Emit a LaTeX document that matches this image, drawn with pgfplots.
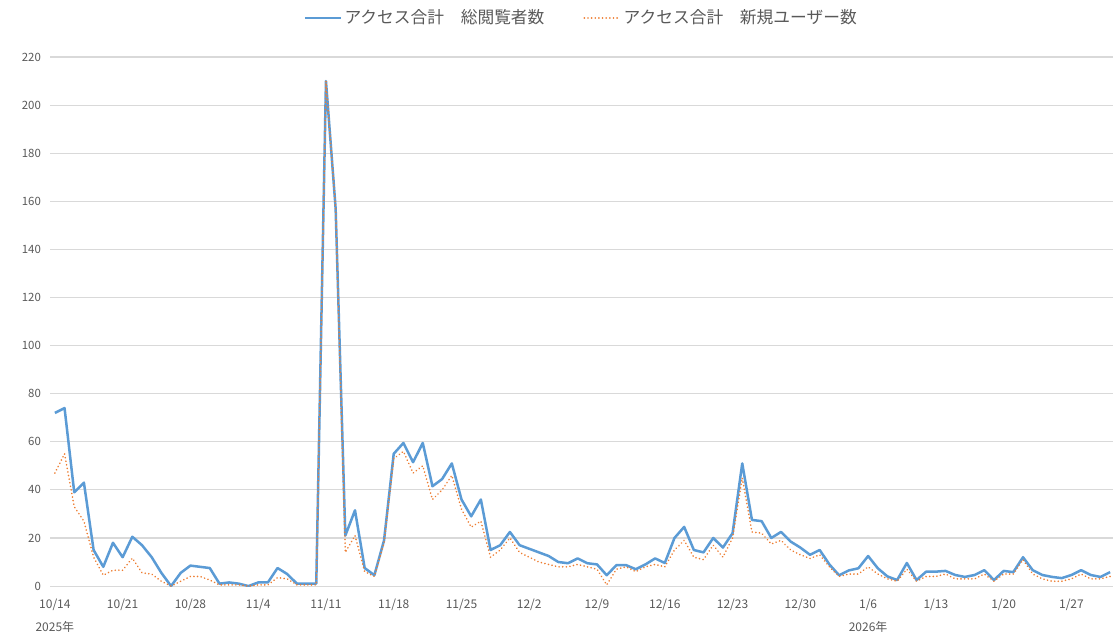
\documentclass[border=0pt]{standalone}
\usepackage{fontspec}
\setmainfont{Noto Sans CJK JP}
\usepackage{pgfplots}
\usepackage{pgfplotstable}
\pgfplotsset{compat=1.18}
\definecolor{xlblue}{HTML}{5B9BD5}
\definecolor{xlorange}{HTML}{ED7D31}
\definecolor{xlgrid}{HTML}{D9D9D9}
\definecolor{xltext}{HTML}{595959}

\pgfplotstableread{
d v
0 72
1 74
2 39
3 43
4 15
5 8
6 18
7 12
8 20.5
9 17
10 12
11 5.5
12 0
13 5.5
14 8.5
15 8
16 7.5
17 1
18 1.5
19 1
20 0
21 1.5
22 1.5
23 7.5
24 5
25 1
26 1
27 1
28 210
29 157
30 21
31 31.5
32 7.5
33 4.5
34 19
35 55
36 59.5
37 51.5
38 59.5
39 41.5
40 44.5
41 51
42 36
43 29
44 36
45 15
46 17
47 22.5
48 17
49 15.5
50 14
51 12.5
52 10
53 9.5
54 11.5
55 9.5
56 9
57 4.5
58 8.7
59 8.7
60 7
61 9
62 11.5
63 9.6
64 20
65 24.6
66 15
67 14
68 20
69 16
70 22
71 51
72 27.5
73 27
74 20
75 22.5
76 18.5
77 16
78 13
79 15
80 9
81 4.5
82 6.5
83 7.4
84 12.5
85 7.4
86 4
87 2.5
88 9.6
89 2.5
90 6
91 6
92 6.3
93 4.6
94 3.8
95 4.6
96 6.6
97 2.5
98 6.3
99 5.8
100 12
101 6.6
102 4.6
103 3.8
104 3.3
105 4.6
106 6.6
107 4.6
108 3.8
109 5.8
}\total

\pgfplotstableread{
d v
0 47
1 55
2 33
3 27
4 12
5 4.5
6 6.6
7 6.6
8 11.6
9 5.5
10 5
11 2
12 0
13 2
14 4
15 4
16 2.5
17 0.5
18 0.5
19 0.5
20 0
21 0.5
22 0.5
23 3.5
24 3
25 0.5
26 0.5
27 0.5
28 210
29 157
30 14
31 21
32 6
33 4
34 18
35 53
36 56
37 47
38 50
39 36
40 40
41 46
42 32
43 24.5
44 27
45 12
46 15
47 20
48 14
49 12
50 10
51 9
52 8
53 8
54 9
55 8
56 7
57 0.5
58 7
59 8
60 6
61 8
62 9
63 8
64 15
65 19
66 12
67 11
68 17
69 12
70 20
71 45
72 22.5
73 22
74 17.5
75 19
76 15
77 13
78 11.5
79 13
80 8
81 4
82 5
83 5
84 8
85 5
86 3
87 2
88 7
89 2
90 4
91 4
92 5
93 3
94 3
95 3
96 5
97 2
98 5
99 5
100 11
101 5
102 3
103 2
104 2
105 3
106 5
107 3
108 3
109 4
}\newusers

\begin{document}
\begin{tikzpicture}
\path[use as bounding box] (-35.9pt,-35.9pt) rectangle (764.1pt,420.5pt);
\begin{axis}[
  at={(0,0)}, anchor=south west,
  scale only axis,
  width=762.7pt, height=379.6pt,
  xmin=-0.5, xmax=109.3,
  ymin=0, ymax=220,
  ytick={0,20,...,220},
  xtick={0,7,...,105},
  xticklabels={{10/14\\[6pt]2025年},10/21,10/28,11/4,11/11,11/18,11/25,12/2,12/9,12/16,12/23,12/30,{1/6\\[6pt]2026年},1/13,1/20,1/27},
  xticklabel style={align=center, font=\fontsize{8.6}{10}\selectfont, text=xltext, anchor=north, yshift=-6pt},
  yticklabel style={font=\fontsize{8.2}{10}\selectfont, text=xltext, xshift=-3pt},
  /pgf/number format/assume math mode=true,
  ymajorgrids, grid style={xlgrid, line width=0.8pt},
  axis line style={draw=none},
  major tick length=0pt,
  legend columns=2,
  legend style={at={(0.5,1.074)}, anchor=center, draw=none, fill=none,
    font=\fontsize{12}{14}\selectfont, text=xltext,
    /tikz/every even column/.append style={column sep=26pt}},
  legend image code/.code={\draw[#1] (0cm,0cm) -- (0.9cm,0cm);},
]
\addplot[xlblue, line width=1.8pt, line join=round] table[x=d, y=v] {\total};
\addlegendentry{アクセス合計　総閲覧者数}
\addplot[xlorange, line width=1.3pt, line cap=round, dash pattern=on 0.01pt off 2.6pt, line join=round] table[x=d, y=v] {\newusers};
\addlegendentry{アクセス合計　新規ユーザー数}
\end{axis}
\end{tikzpicture}
\end{document}
